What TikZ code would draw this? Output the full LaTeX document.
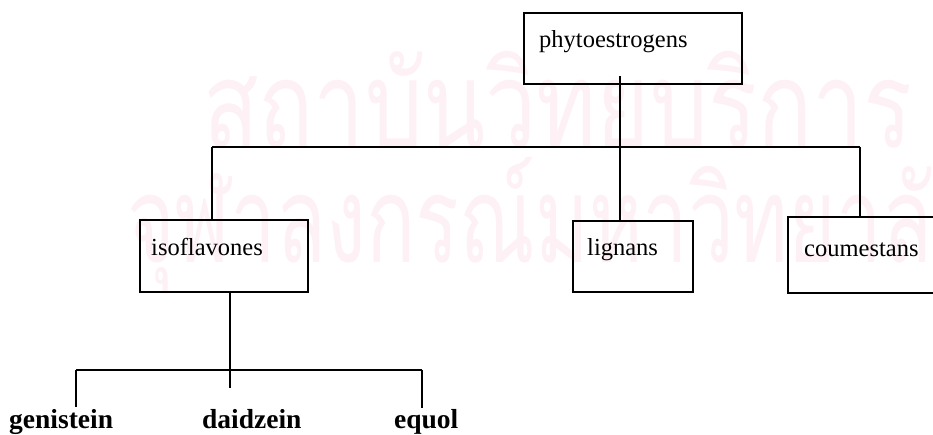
\documentclass[tikz,border=0pt]{standalone}
\usepackage{fontspec}
\setmainfont{Liberation Serif}
\newfontfamily\thaifont[Script=Thai]{Loma}
\definecolor{wmpink}{RGB}{253,241,245}
\begin{document}
\begin{tikzpicture}[x=1pt,y=1pt,
  box/.style={draw,line width=1.6pt,inner sep=0pt,anchor=north west},
  lbl/.style={inner sep=0pt,anchor=base west,font=\fontsize{24.5}{29}\selectfont},
  leaf/.style={inner sep=0pt,anchor=base west,font=\fontsize{27.5}{33}\selectfont\bfseries},
  wm/.style={inner sep=0pt,anchor=base west,text=wmpink,font=\thaifont\fontsize{120}{140}\selectfont},
  link/.style={line width=1.6pt}]
\useasboundingbox (0,0) rectangle (933,-434);

% faint background stamp
\node[wm,xscale=0.76] (stamp1) at (203,-147) {สถาบันวิทยบริการ};
\node[wm,xscale=0.68] (stamp2) at (127,-262) {จุฬาลงกรณ์มหาวิทยาลัย};

% boxes
\node[box,minimum width=218pt,minimum height=71pt] (phyto) at (523,-12) {};
\node[box,minimum width=168pt,minimum height=72pt] (iso) at (139,-219) {};
\node[box,minimum width=120pt,minimum height=71pt] (lig) at (572,-220) {};
\node[box,minimum width=160pt,minimum height=76pt] (cou) at (787,-216) {};

% box texts
\node[lbl] (tphyto) at (539,-47) {phytoestrogens};
\node[lbl] (tiso) at (151,-255) {isoflavones};
\node[lbl] (tlig) at (587,-255) {lignans};
\node[lbl] (tcou) at (804,-256) {coumestans};

% leaf labels
\node[leaf] (gen) at (9,-428) {genistein};
\node[leaf] (dai) at (202,-428) {daidzein};
\node[leaf] (equ) at (394,-428) {equol};

% junction points
\coordinate (stem) at (620,-76);
\coordinate (barL) at (212,-147);
\coordinate (barR) at (860,-147);
\coordinate (isoStem) at (230,-291);
\coordinate (subL) at (76,-370);
\coordinate (subR) at (422,-370);
\coordinate (genEnd) at (76,-407);
\coordinate (daiEnd) at (230,-388);
\coordinate (equEnd) at (422,-408);

% first level connectors
\draw[link] (stem) -- (stem |- lig.north);
\draw[link] (barL) -- (barR);
\draw[link] (barL) -- (barL |- iso.north);
\draw[link] (barR) -- ([yshift=-2pt]barR |- cou.north);

% second level connectors
\draw[link] (isoStem) -- (daiEnd);
\draw[link] (subL) -- (subR);
\draw[link] (subL) -- (genEnd);
\draw[link] (subR) -- (equEnd);
\end{tikzpicture}
\end{document}
